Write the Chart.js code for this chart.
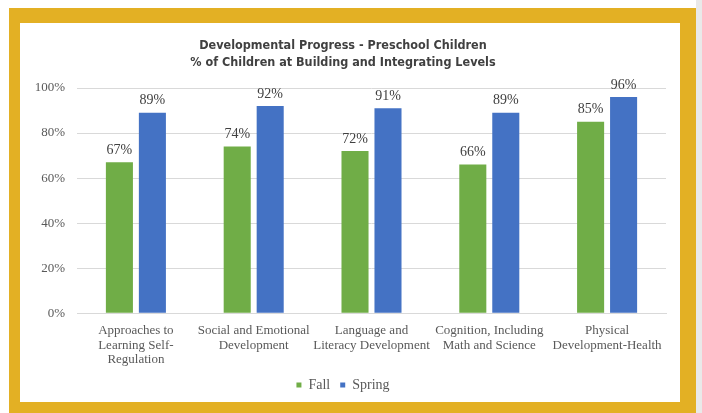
<!DOCTYPE html>
<html>
<head>
<meta charset="utf-8">
<script src="https://cdn.jsdelivr.net/npm/chart.js@4"></script>
<style>
    html, body { margin: 0; padding: 0; background: #fff; }
    body { width: 702px; height: 413px; position: relative; overflow: hidden; }
    #shadow { position: absolute; left: 696px; top: 0; width: 6px; height: 413px; background: #e9e9e9; }
    #frame { position: absolute; left: 9px; top: 8px; width: 687px; height: 410px; background: #e3b024; }
    #panel { position: absolute; left: 20px; top: 23px; width: 660px; height: 379px; background: #fff; }
</style>
</head>
<body>
<div id="shadow"></div>
<div id="frame"></div>
<div id="panel"><canvas id="chart" width="660" height="379"></canvas></div>
<script>
    // Werte
    const categories = [
        ['Approaches to', 'Learning Self-', 'Regulation'],
        ['Social and Emotional', 'Development'],
        ['Language and', 'Literacy Development'],
        ['Cognition, Including', 'Math and Science'],
        ['Physical', 'Development-Health']
    ];
    const fallValues = [67, 74, 72, 66, 85];
    const springValues = [89, 92, 91, 89, 96];
    const yTicks = [0, 20, 40, 60, 80, 100];

    const serif = '"Liberation Serif", "Times New Roman", serif';
    const textColor = '#595959';

    // Beschriftungen über den Balken
    const barLabels = {
        id: 'barLabels',
        afterDatasetsDraw(chart) {
            const ctx = chart.ctx;
            ctx.save();
            ctx.font = '14px ' + serif;
            ctx.fillStyle = '#404040';
            ctx.textAlign = 'center';
            ctx.textBaseline = 'middle';
            chart.data.datasets.forEach((ds, i) => {
                chart.getDatasetMeta(i).data.forEach((bar, j) => {
                    ctx.fillText(ds.data[j] + '%', bar.x, bar.y - 12);
                });
            });
            ctx.restore();
        }
    };

    new Chart(document.getElementById('chart'), {
        type: 'bar',
        data: {
            labels: categories,
            datasets: [
                {
                    label: 'Fall',
                    data: fallValues,
                    backgroundColor: '#70ad47',
                    barPercentage: 0.82,
                    categoryPercentage: 0.56
                },
                {
                    label: 'Spring',
                    data: springValues,
                    backgroundColor: '#4472c4',
                    barPercentage: 0.82,
                    categoryPercentage: 0.56
                }
            ]
        },
        options: {
            responsive: false,
            animation: false,
            layout: { padding: { left: 0, right: 14, top: 0, bottom: 0 } },
            plugins: {
                title: {
                    display: true,
                    text: ['Developmental Progress - Preschool Children', '% of Children at Building and Integrating Levels'],
                    color: '#404040',
                    font: { family: '"Liberation Sans Narrow", "DejaVu Sans Condensed", sans-serif', size: 12.5, weight: 'bold', lineHeight: 1.36 },
                    padding: { top: 14, bottom: 17 }
                },
                legend: {
                    position: 'bottom',
                    labels: {
                        color: textColor,
                        font: { family: serif, size: 14 },
                        boxWidth: 5,
                        boxHeight: 5,
                        padding: 10
                    }
                },
                tooltip: { enabled: false }
            },
            scales: {
                x: {
                    afterFit(axis) {
                        // Achse etwas niedriger, damit die Beschriftung näher an der Legende sitzt
                        axis.height = axis.height - 9;
                    },
                    grid: { display: false, drawTicks: false },
                    border: { color: '#d9d9d9' },
                    ticks: { color: textColor, font: { family: serif, size: 13, lineHeight: 1.12 }, padding: 10, maxRotation: 0, autoSkip: false }
                },
                y: {
                    min: 0,
                    max: 100,
                    afterBuildTicks(axis) {
                        axis.ticks = yTicks.map(v => ({ value: v }));
                    },
                    afterFit(axis) {
                        axis.width = 57;
                    },
                    grid: { color: '#d9d9d9', drawTicks: false },
                    border: { display: false },
                    ticks: { color: textColor, font: { family: serif, size: 13 }, padding: 12, callback: v => v + '%' }
                }
            }
        },
        plugins: [barLabels]
    });
</script>
</body>
</html>
